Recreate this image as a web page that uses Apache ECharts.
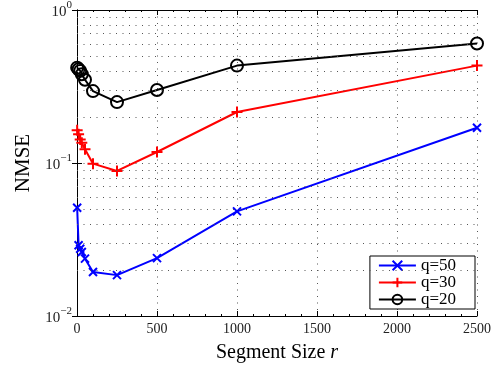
<!DOCTYPE html>
<html><head><meta charset="utf-8">
<script src="https://cdn.jsdelivr.net/npm/echarts@6/dist/echarts.min.js"></script>
<style>html,body{margin:0;padding:0;background:#fff}#c{width:498px;height:368px}</style>
</head><body><div id="c"></div>
<script>
const segmentSizes = [1, 10, 20, 30, 50, 100, 250, 500, 1000, 2500];
const nmseQ50 = [0.051, 0.029, 0.0275, 0.0262, 0.0237, 0.0194, 0.0185, 0.0239, 0.0483, 0.170];
const nmseQ30 = [0.164, 0.154, 0.1425, 0.1355, 0.123, 0.099, 0.0887, 0.118, 0.2155, 0.433];
const nmseQ20 = [0.42, 0.41, 0.40, 0.38, 0.35, 0.295, 0.25, 0.30, 0.433, 0.604];
const seriesNames = ['q=50', 'q=30', 'q=20'];
const xTicks = [0, 500, 1000, 1500, 2000, 2500];
const yDecades = [0.01, 0.1, 1];

const FONT = 'Liberation Serif';
const pairs = arr => segmentSizes.map((x, i) => [x, arr[i]]);
const minorVals = [];
for (let d = 0; d < yDecades.length - 1; d++) for (let k = 2; k <= 9; k++) minorVals.push(+(k * yDecades[d]).toPrecision(3));
const dotted = { color: '#555', width: 1, type: [1, 5.5] };

const chart = echarts.init(document.getElementById('c'), null, { renderer: 'canvas' });
const supFmt = v => { const e = Math.round(Math.log10(v)); return '{b|10}{s|' + (e < 0 ? '\u2212' + (-e) : e) + '}'; };
chart.setOption({
  animation: false,
  backgroundColor: '#fff',
  grid: { left: 77, right: 21, top: 8, bottom: 52, containLabel: false },
  legend: {
    orient: 'vertical', right: 23, bottom: 59,
    itemWidth: 37, itemHeight: 12, itemGap: 0,
    padding: [1, 19, 1, 8],
    borderColor: '#000', borderWidth: 1, backgroundColor: '#fff',
    textStyle: { fontFamily: FONT, fontSize: 17, color: '#000', lineHeight: 12 },
    data: seriesNames
  },
  xAxis: [{
    type: 'value', min: xTicks[0], max: xTicks[xTicks.length - 1], interval: 500,
    name: 'Segment Size {i|r}', nameLocation: 'middle', nameGap: 27,
    nameTextStyle: { fontFamily: FONT, fontSize: 20, color: '#000', rich: { i: { fontFamily: FONT, fontStyle: 'italic', fontSize: 20 } } },
    axisLine: { lineStyle: { color: '#000', width: 1 } },
    axisTick: { inside: true, length: 5, lineStyle: { color: '#000' } },
    minorTick: { show: true, splitNumber: 5, length: 2, lineStyle: { color: '#000' } },
    axisLabel: { fontFamily: FONT, fontSize: 14, color: '#222', margin: 6, formatter: v => String(v) },
    splitLine: { show: true, lineStyle: dotted }
  }, {
    type: 'value', position: 'top', min: 0, max: 2500, interval: 500,
    axisLine: { lineStyle: { color: '#000' } },
    axisTick: { inside: true, length: 5, lineStyle: { color: '#000' } },
    minorTick: { show: true, splitNumber: 5, length: 2, lineStyle: { color: '#000' } },
    axisLabel: { show: false }, splitLine: { show: false }
  }],
  yAxis: [{
    type: 'log', logBase: 10, min: yDecades[0], max: yDecades[yDecades.length - 1],
    name: 'NMSE', nameLocation: 'middle', nameGap: 43,
    nameTextStyle: { fontFamily: FONT, fontSize: 21, color: '#000' },
    axisLine: { show: true, lineStyle: { color: '#000', width: 1 } },
    axisTick: { show: true, inside: true, length: 5, lineStyle: { color: '#000' } },
    axisLabel: {
      formatter: supFmt, margin: 5,
      rich: {
        b: { fontFamily: FONT, fontSize: 15, color: '#222', lineHeight: 20, verticalAlign: 'bottom' },
        s: { fontFamily: FONT, fontSize: 11, color: '#222', lineHeight: 12, verticalAlign: 'top' }
      }
    },
    splitLine: { show: true, lineStyle: dotted }
  }, {
    type: 'log', logBase: 10, position: 'right', min: 0.01, max: 1,
    axisLine: { show: true, lineStyle: { color: '#000' } },
    axisTick: { show: true, inside: true, length: 5, lineStyle: { color: '#000' } },
    axisLabel: { show: false }, splitLine: { show: false }
  }],
  series: [{
    name: seriesNames[0], type: 'line', data: pairs(nmseQ50),
    symbol: 'path://M0,0L10,10M10,0L0,10', symbolSize: 8,
    lineStyle: { color: '#0000ff', width: 2 },
    itemStyle: { color: 'rgba(0,0,0,0)', borderColor: '#0000ff', borderWidth: 2 },
    markLine: {
      silent: true, symbol: ['none', 'none'], label: { show: false },
      lineStyle: dotted, animation: false,
      data: minorVals.map(v => ({ yAxis: v }))
    },
    z: 3
  }, {
    name: seriesNames[1], type: 'line', data: pairs(nmseQ30),
    symbol: 'path://M5,0L5,10M0,5L10,5', symbolSize: 11,
    lineStyle: { color: '#ff0000', width: 2 },
    itemStyle: { color: 'rgba(0,0,0,0)', borderColor: '#ff0000', borderWidth: 2 },
    z: 3
  }, {
    name: seriesNames[2], type: 'line', data: pairs(nmseQ20),
    symbol: 'circle', symbolSize: 12,
    lineStyle: { color: '#000', width: 2 },
    itemStyle: { color: 'rgba(0,0,0,0)', borderColor: '#000', borderWidth: 2 },
    z: 3
  }]
});
</script></body></html>
